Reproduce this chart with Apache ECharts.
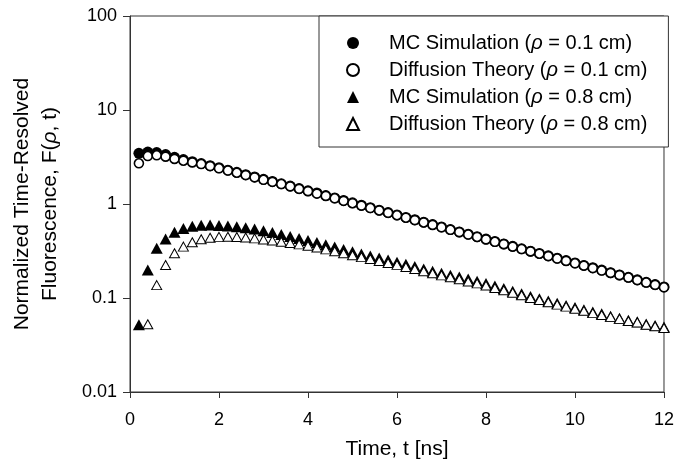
<!DOCTYPE html>
<html lang="en">
<head>
  <meta charset="UTF-8">
  <title>Time-resolved fluorescence</title>
  <style>
    html, body { margin: 0; padding: 0; background: #fff; }
  </style>
</head>
<body>
  <div id="chart" style="width:677px;height:469px;"></div>
  <script src="https://cdn.jsdelivr.net/npm/echarts@6/dist/echarts.min.js"></script>
  <script>
    // time points [ns]
    var times = [0.2, 0.4, 0.6, 0.8, 1.0, 1.2, 1.4, 1.6, 1.8, 2.0,
      2.2, 2.4, 2.6, 2.8, 3.0, 3.2, 3.4, 3.6, 3.8, 4.0,
      4.2, 4.4, 4.6, 4.8, 5.0, 5.2, 5.4, 5.6, 5.8, 6.0,
      6.2, 6.4, 6.6, 6.8, 7.0, 7.2, 7.4, 7.6, 7.8, 8.0,
      8.2, 8.4, 8.6, 8.8, 9.0, 9.2, 9.4, 9.6, 9.8, 10.0,
      10.2, 10.4, 10.6, 10.8, 11.0, 11.2, 11.4, 11.6, 11.8, 12.0];

    // MC simulation, rho = 0.1 cm
    var mc01 = [3.46, 3.57, 3.52, 3.36, 3.14, 2.97, 2.82, 2.69, 2.56, 2.43,
      2.29, 2.17, 2.05, 1.94, 1.83, 1.74, 1.64, 1.55, 1.46, 1.38,
      1.31, 1.23, 1.16, 1.09, 1.03, 0.97, 0.915, 0.86, 0.81, 0.765,
      0.72, 0.68, 0.64, 0.605, 0.57, 0.535, 0.505, 0.477, 0.449, 0.423,
      0.399, 0.376, 0.355, 0.334, 0.315, 0.298, 0.281, 0.265, 0.25, 0.236,
      0.222, 0.21, 0.198, 0.186, 0.176, 0.166, 0.156, 0.147, 0.139, 0.131];

    // Diffusion theory, rho = 0.1 cm
    var diff01 = [2.71, 3.24, 3.30, 3.19, 3.02, 2.89, 2.77, 2.66, 2.53, 2.40,
      2.27, 2.15, 2.03, 1.92, 1.81, 1.72, 1.63, 1.54, 1.45, 1.37,
      1.29, 1.22, 1.15, 1.08, 1.02, 0.961, 0.906, 0.854, 0.805, 0.759,
      0.715, 0.674, 0.636, 0.599, 0.565, 0.532, 0.502, 0.473, 0.446, 0.42,
      0.396, 0.374, 0.352, 0.332, 0.313, 0.296, 0.279, 0.263, 0.248, 0.234,
      0.221, 0.208, 0.196, 0.185, 0.175, 0.165, 0.155, 0.146, 0.138, 0.13];

    // MC simulation, rho = 0.8 cm
    var mc08 = [0.052, 0.199, 0.338, 0.425, 0.50, 0.55, 0.58, 0.595, 0.598, 0.592,
      0.583, 0.572, 0.56, 0.541, 0.52, 0.497, 0.475, 0.452, 0.43, 0.41,
      0.389, 0.369, 0.349, 0.329, 0.31, 0.294, 0.28, 0.266, 0.253, 0.24,
      0.228, 0.216, 0.204, 0.193, 0.183, 0.175, 0.167, 0.159, 0.151, 0.143,
      0.134, 0.126, 0.118, 0.111, 0.104, 0.098, 0.093, 0.088, 0.083, 0.079,
      0.075, 0.071, 0.068, 0.064, 0.061, 0.058, 0.056, 0.053, 0.051, 0.049];

    // Diffusion theory, rho = 0.8 cm (first point off the plot)
    var diff08 = [null, 0.0525, 0.137, 0.224, 0.299, 0.352, 0.391, 0.421, 0.438, 0.447,
      0.449, 0.446, 0.44, 0.431, 0.42, 0.408, 0.396, 0.384, 0.372, 0.36,
      0.344, 0.329, 0.314, 0.299, 0.285, 0.272, 0.26, 0.248, 0.236, 0.225,
      0.214, 0.203, 0.193, 0.183, 0.174, 0.166, 0.158, 0.15, 0.143, 0.136,
      0.128, 0.121, 0.114, 0.107, 0.1, 0.095, 0.09, 0.085, 0.081, 0.077,
      0.073, 0.069, 0.066, 0.063, 0.06, 0.057, 0.055, 0.052, 0.05, 0.048];

    var xTicks = [0, 2, 4, 6, 8, 10, 12];
    var yTicks = [0.01, 0.1, 1, 10, 100];

    function pairs(vals) {
      var out = [];
      for (var i = 0; i < times.length; i++) {
        if (vals[i] != null) out.push([times[i], vals[i]]);
      }
      return out;
    }

    var font = 'Liberation Sans, Arial, sans-serif';
    var legendRich = {
      n: { fontFamily: font, fontSize: 20, color: '#000' },
      i: { fontFamily: font, fontSize: 20, color: '#000', fontStyle: 'italic' }
    };

    var myChart = echarts.init(document.getElementById('chart'));
    var option = {
      backgroundColor: '#fff',
      animation: false,
      grid: {
        left: 129, top: 16, right: 9, bottom: 77,
        show: true, borderColor: '#333', borderWidth: 1
      },
      legend: {
        orient: 'vertical',
        left: 319, top: 16,
        padding: [17, 21, 13, 27],
        itemWidth: 12, itemHeight: 12, itemGap: 7,
        backgroundColor: '#fff',
        borderColor: '#333', borderWidth: 1,
        selectedMode: false,
        textStyle: { fontFamily: font, fontSize: 20, lineHeight: 20, padding: [0, 0, 0, 25], rich: legendRich },
        formatter: function (name) {
          var m = name.match(/^(.*)\(ρ = (.*)\)$/);
          return '{n|' + m[1] + '(}{i|ρ}{n| = ' + m[2] + ')}';
        },
        data: ['MC Simulation (ρ = 0.1 cm)', 'Diffusion Theory (ρ = 0.1 cm)',
          'MC Simulation (ρ = 0.8 cm)', 'Diffusion Theory (ρ = 0.8 cm)']
      },
      xAxis: {
        type: 'value',
        min: 0, max: 12, interval: 2,
        name: 'Time, t [ns]',
        nameLocation: 'middle',
        nameGap: 47,
        nameTextStyle: { fontFamily: font, fontSize: 21, color: '#000' },
        axisLine: { lineStyle: { color: '#333', width: 1 } },
        axisTick: { show: true, inside: false, length: 6, lineStyle: { color: '#333' } },
        axisLabel: {
          fontFamily: font, fontSize: 18, color: '#000', margin: 19,
          formatter: function (v) { return xTicks.indexOf(v) >= 0 ? String(v) : ''; }
        },
        splitLine: { show: false }
      },
      yAxis: {
        type: 'log',
        logBase: 10,
        min: 0.01, max: 100,
        name: '{a|Normalized Time-Resolved}\n{a|Fluorescence, F(}{i|ρ}{a|, t)}',
        nameLocation: 'middle',
        nameRotate: 90,
        nameGap: 66,
        nameTextStyle: {
          fontFamily: font, fontSize: 21, color: '#000', lineHeight: 28,
          rich: {
            a: { fontFamily: font, fontSize: 21, color: '#000', lineHeight: 28 },
            i: { fontFamily: font, fontSize: 21, color: '#000', lineHeight: 28, fontStyle: 'italic' }
          }
        },
        axisLine: { lineStyle: { color: '#333', width: 1 } },
        axisTick: { show: true, inside: false, length: 7, lineStyle: { color: '#333' } },
        minorTick: { show: false },
        axisLabel: {
          fontFamily: font, fontSize: 18, color: '#000', margin: 13,
          formatter: function (v) {
            for (var k = 0; k < yTicks.length; k++) {
              if (Math.abs(v - yTicks[k]) / yTicks[k] < 1e-6) return String(yTicks[k]);
            }
            return '';
          }
        },
        splitLine: { show: false }
      },
      series: [
        {
          name: 'MC Simulation (ρ = 0.1 cm)',
          type: 'scatter',
          symbol: 'circle', symbolSize: 11,
          itemStyle: { color: '#000', opacity: 1 },
          data: pairs(mc01)
        },
        {
          name: 'Diffusion Theory (ρ = 0.1 cm)',
          type: 'scatter',
          symbol: 'circle', symbolSize: 9,
          itemStyle: { color: '#fff', borderColor: '#000', borderWidth: 1.6, opacity: 1 },
          data: pairs(diff01)
        },
        {
          name: 'MC Simulation (ρ = 0.8 cm)',
          type: 'scatter',
          symbol: 'triangle', symbolSize: [12, 11],
          itemStyle: { color: '#000', opacity: 1 },
          data: pairs(mc08)
        },
        {
          name: 'Diffusion Theory (ρ = 0.8 cm)',
          type: 'scatter',
          symbol: 'triangle', symbolSize: [10, 9],
          itemStyle: { color: '#fff', borderColor: '#000', borderWidth: 1, opacity: 1 },
          data: pairs(diff08)
        }
      ]
    };

    myChart.setOption(option);
  </script>
</body>
</html>
